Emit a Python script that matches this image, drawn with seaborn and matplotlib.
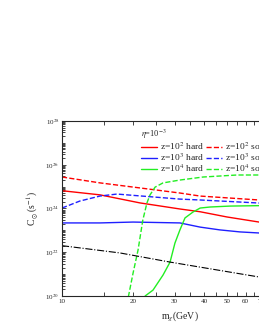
import numpy as np
import pandas as pd
import seaborn as sns
import matplotlib.pyplot as plt
from matplotlib.ticker import FixedLocator, LogLocator, NullFormatter

# dark matter mass (GeV) and capture rate (s^-1)
m_red_hard = [10, 14.5, 21.4, 31.6, 38.5, 50, 68.4]
c_red_hard = [6.5e24, 4.2e24, 1.8e24, 9.5e23, 7.1e23, 4.1e23, 2.4e23]

m_red_soft = [10, 14.5, 21.4, 31.6, 38.5, 68.4]
c_red_soft = [2.75e25, 1.48e25, 8.7e24, 5.1e24, 3.7e24, 2.45e24]

m_blue_hard = [10, 14.5, 20, 31.6, 38.5, 46.7, 56.8, 68.4]
c_blue_hard = [2.19e23, 2.19e23, 2.4e23, 2.19e23, 1.41e23, 1.05e23, 8.5e22, 7.6e22]

m_blue_soft = [10, 11.9, 14.5, 17.1, 31.6, 38.5, 68.4]
c_blue_soft = [1.05e24, 2.19e24, 3.72e24, 4.57e24, 2.69e24, 2.45e24, 1.78e24]

m_green_hard = [22.5, 24.3, 26.8, 28.7, 30.1, 31.6, 33.2, 35.9, 38.5, 42.4, 51.5, 68.4]
c_green_hard = [1e20, 1.86e20, 9.1e20, 3.55e21, 2.63e22, 1.05e23, 3.7e23, 6.9e23,
                1.05e24, 1.17e24, 1.29e24, 1.35e24]

m_green_soft = [19.1, 20.0, 21.0, 22.0, 22.9, 23.6, 24.8, 26.8, 31.6, 39.6, 55.2, 68.4]
c_green_soft = [9e19, 1.1e21, 1.26e22, 2.95e23, 1.78e24, 4.17e24, 9.5e24, 1.48e25,
                2.0e25, 2.75e25, 3.4e25, 3.4e25]

m_black = [10, 17.6, 28.7, 68.4]
c_black = [2.0e22, 9.3e21, 3.55e21, 7.4e20]

x_ticks = [10, 20, 30, 40, 50, 60, 70]
x_minor = [15, 25, 35, 45, 55, 65, 75, 80, 85, 90, 95]

sns.set_style('ticks')
plt.rcParams['font.family'] = ['Liberation Serif', 'DejaVu Serif']
plt.rcParams['mathtext.fontset'] = 'stix'

fig = plt.figure(figsize=(2.59, 3.36), dpi=100)
# axes run past the right edge of the picture, as in the original crop
ax = fig.add_axes([62 / 259, 1 - 296 / 336, 236 / 259, 175 / 336])

series = [
    (m_red_hard, c_red_hard, 'red', '-', r'z=10$^2$ hard'),
    (m_blue_hard, c_blue_hard, '#1f1fff', '-', r'z=10$^3$ hard'),
    (m_green_hard, c_green_hard, '#22ee22', '-', r'z=10$^4$ hard'),
    (m_red_soft, c_red_soft, 'red', '--', r'z=10$^2$ soft'),
    (m_blue_soft, c_blue_soft, '#1f1fff', '--', r'z=10$^3$ soft'),
    (m_green_soft, c_green_soft, '#22ee22', '--', r'z=10$^4$ soft'),
]

handles = []
for m, c, col, ls, lab in series:
    df = pd.DataFrame({'m': m, 'C': c})
    sns.lineplot(data=df, x='m', y='C', ax=ax, color=col, linestyle=ls,
                 linewidth=1.0, label=lab)
    handles.append(ax.lines[-1])

df_k = pd.DataFrame({'m': m_black, 'C': c_black})
sns.lineplot(data=df_k, x='m', y='C', ax=ax, color='black', linestyle='-.',
             linewidth=0.8)

ax.set_xscale('log')
ax.set_yscale('log')
ax.set_xlim(10, 100)
ax.set_ylim(1e20, 1e28)

ax.xaxis.set_major_locator(FixedLocator(x_ticks))
ax.xaxis.set_minor_locator(FixedLocator(x_minor))
ax.set_xticklabels([str(t) for t in x_ticks])
ax.xaxis.set_minor_formatter(NullFormatter())

y_major = [1e20, 1e22, 1e24, 1e26, 1e28]
ax.yaxis.set_major_locator(FixedLocator(y_major))
ax.set_yticklabels([r'10$^{%d}$' % int(np.log10(v)) for v in y_major])
ax.yaxis.set_minor_locator(LogLocator(base=10, subs=np.arange(1, 10), numticks=20))
ax.yaxis.set_minor_formatter(NullFormatter())

ax.tick_params(which='both', direction='in', top=True, right=True,
               labelsize=5, pad=2, width=0.6)
ax.tick_params(which='major', length=3)
ax.tick_params(which='minor', length=1.8)
ax.tick_params(axis='x', which='minor', length=3)
for s in ax.spines.values():
    s.set_linewidth(0.8)

ax.set_xlabel(r'm$_\chi$(GeV)', fontsize=7, labelpad=4)
ax.set_ylabel(r'C$_\odot$(s$^{-1}$)', fontsize=7, labelpad=4)

if ax.get_legend() is not None:
    ax.get_legend().remove()
fig.legend(handles=handles, loc='upper left', bbox_to_anchor=(136 / 259, 1 - 123 / 336),
           ncol=2, frameon=False, fontsize=6.8, title=r'$\eta$=10$^{-3}$',
           title_fontsize=6, alignment='left', handlelength=1.75,
           handletextpad=0.25, columnspacing=0.2, labelspacing=-0.03, borderpad=0)

plt.savefig('out.png', dpi=100)
